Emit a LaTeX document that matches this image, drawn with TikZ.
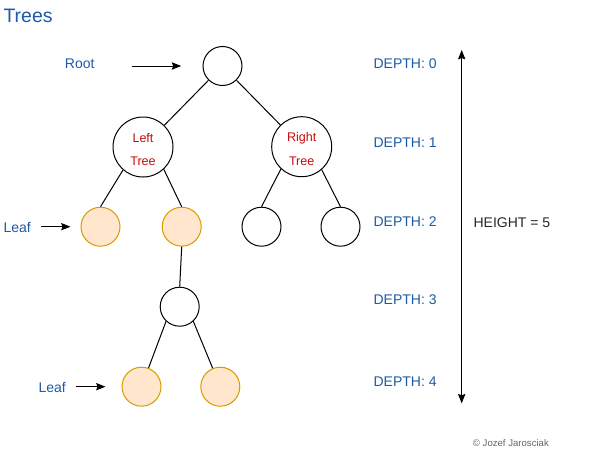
\documentclass[tikz,border=0pt]{standalone}
\usepackage{fontspec}
\setmainfont{Liberation Sans}
\usetikzlibrary{positioning, arrows.meta}

\definecolor{textblue}{RGB}{30,90,165}
\definecolor{treered}{RGB}{200,10,10}
\definecolor{leaffill}{HTML}{FFE6CC}
\definecolor{leafdraw}{HTML}{D79B00}

\tikzset{
    treenode/.style  = {draw, circle, line width=0.75pt, minimum size=29.25pt, inner sep=0pt},
    bignode/.style   = {draw, circle, line width=0.75pt, minimum size=45pt, inner sep=0pt},
    redtext/.style   = {inner sep=0pt, align=center, text=treered, font=\fontsize{9.4}{17.8}\selectfont, yshift=-1.9pt},
    leafnode/.style  = {treenode, draw=leafdraw, fill=leaffill},
    bluelabel/.style = {inner sep=0pt, text=textblue, font=\fontsize{10.5}{12}\selectfont},
    pointer/.style   = {-{Stealth[length=7pt, width=5.5pt, inset=1pt]}, line width=0.75pt},
    edge/.style      = {line width=0.75pt}
}

\begin{document}
\begin{tikzpicture}[x=0.75pt, y=-0.75pt]
        \useasboundingbox (0,0) rectangle (593,458);

        \node[inner sep=0pt, text=textblue, font=\fontsize{14.6}{16}\selectfont, anchor=west] (title) at (3.3,15.5) {Trees};

        \node[treenode]             (root)       at (222.5,66)    {};
        \node[bignode, label={[redtext]center:Left\\Tree}]   (left tree)  at (143,147)     {};
        \node[bignode, label={[redtext]center:Right\\Tree}]  (right tree) at (301.7,146.7) {};
        \node[leafnode]             (leaf 1)     at (100.5,226.7) {};
        \node[leafnode]             (leaf 2)     at (181.7,226.7) {};
        \node[treenode]             (node 1)     at (261.5,226.7) {};
        \node[treenode]             (node 2)     at (340.5,226.7) {};
        \node[treenode]             (node 3)     at (179.7,306.7) {};
        \node[leafnode]             (leaf 3)     at (141.5,386.7) {};
        \node[leafnode]             (leaf 4)     at (220.3,386.7) {};

        \draw[edge] (root) -- (left tree);
        \draw[edge] (root) -- (right tree);
        \draw[edge] (left tree.229)  -- (leaf 1.north);
        \draw[edge] (left tree.313)  -- (leaf 2.north);
        \draw[edge] (right tree.227) -- (node 1.north);
        \draw[edge] (right tree.311) -- (node 2.north);
        \draw[edge] (leaf 2.south)   -- (node 3.north);
        \draw[edge] (node 3.227)     -- (leaf 3);
        \draw[edge] (node 3.313)     -- (leaf 4);

        % labels on the left
        \node[bluelabel]            (root label)   at (79.7,63.3)  {Root};
        \node[bluelabel]            (leaf label 1) at (17.2,227.7) {Leaf};
        \node[bluelabel]            (leaf label 2) at (52.2,387.3) {Leaf};
        \coordinate (root arrow)   at (131.7,66);
        \coordinate (leaf arrow 1) at (41,226.7);
        \coordinate (leaf arrow 2) at (76,386.7);
        \draw[pointer, shorten >=16pt]  (root arrow)   -- (root.west);
        \draw[pointer, shorten >=7.5pt] (leaf arrow 1) -- (leaf 1.west);
        \draw[pointer, shorten >=12pt]  (leaf arrow 2) -- (leaf 3.west);

        % depths
        \node[bluelabel, anchor=west] (depth 0) at (373.3,63.3) {DEPTH: 0};
        \node[bluelabel, anchor=west] (depth 1) at (373.3,142.3) {DEPTH: 1};
        \node[bluelabel, anchor=west] (depth 2) at (373.3,222)   {DEPTH: 2};
        \node[bluelabel, anchor=west] (depth 3) at (373.3,300)   {DEPTH: 3};
        \node[bluelabel, anchor=west] (depth 4) at (373.3,382)   {DEPTH: 4};

        % height
        \coordinate (height top)    at (461.7,50);
        \coordinate (height bottom) at (461.7,403.3);
        \draw[pointer, {Stealth[length=7pt, width=5.5pt, inset=1pt]}-{Stealth[length=7pt, width=5.5pt, inset=1pt]}] (height top) -- (height bottom);
        \node[inner sep=0pt, text=black!85, font=\fontsize{10.5}{12}\selectfont, anchor=west] (height) at (473.3,222.3) {HEIGHT = 5};

        \node[inner sep=0pt, text=black!60, font=\fontsize{7.2}{8}\selectfont, anchor=west] (copyright) at (472.7,443.3) {© Jozef Jarosciak};
    \end{tikzpicture}
\end{document}
